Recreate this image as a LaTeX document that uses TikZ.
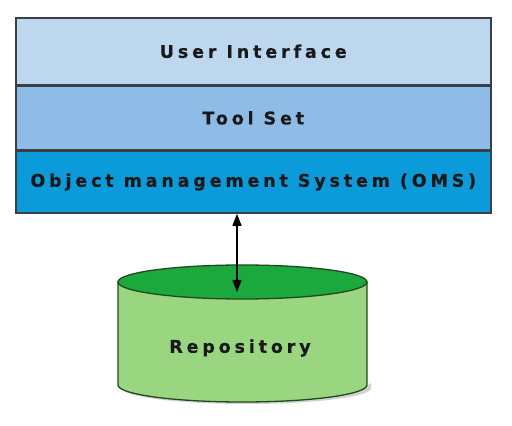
\documentclass[tikz,border=0pt]{standalone}
\usepackage{fontspec}
\newfontfamily\lblfont[LetterSpace=22,FakeBold=0.5]{DejaVu Sans Bold}
\usetikzlibrary{arrows.meta}
\definecolor{uicol}{HTML}{BDD7EE}
\definecolor{tscol}{HTML}{8FBCE6}
\definecolor{omscol}{HTML}{0B9BDB}
\definecolor{bordcol}{HTML}{3A3F45}
\definecolor{bodycol}{HTML}{9AD680}
\definecolor{topcol}{HTML}{1BA83C}
\definecolor{cylline}{HTML}{1E4A1E}
\tikzset{
  layer/.style={draw=bordcol, line width=1.6pt, minimum width=475pt, inner sep=0pt, font=\lblfont\fontsize{17.5}{20}\selectfont, text=black!90},
  conn/.style={line width=1.3pt, {Triangle[length=12pt,width=9pt]}-{Triangle[length=12pt,width=9pt]}}
}
\begin{document}
\begin{tikzpicture}[x=1pt,y=1pt]
\useasboundingbox (0,0) rectangle (512,426);
% layers
\node[layer, fill=uicol, minimum height=67pt, anchor=north west] (ui) at (15,409) {User Interface};
\node[layer, fill=tscol, minimum height=63pt, anchor=north west] (ts) at (ui.south west) {Tool Set};
\node[layer, fill=omscol, minimum height=62pt, anchor=north west] (oms) at (ts.south west) {Object management System (OMS)};
% cylinder shadow
\fill[black!30, opacity=0.6] (122,38) arc[start angle=180, end angle=360, x radius=124.5pt, y radius=16pt] -- (371,44) arc[start angle=0, end angle=-180, x radius=124.5pt, y radius=14pt] -- cycle;
% cylinder body
\filldraw[fill=bodycol, draw=cylline, line width=1.3pt] (118,144) -- (118,41) arc[start angle=180, end angle=360, x radius=124.5pt, y radius=17pt] -- (367,144) -- cycle;
% cylinder top
\filldraw[fill=topcol, draw=cylline, line width=1.3pt] (242.5,144) ellipse[x radius=124.5pt, y radius=17pt];
\node[font=\lblfont\fontsize{17.5}{20}\selectfont, text=black!90] (repo) at (240,78) {Repository};
\coordinate (repotop) at (237,134);
\draw[conn] (repotop) -- (repotop |- oms.south);
\end{tikzpicture}
\end{document}
